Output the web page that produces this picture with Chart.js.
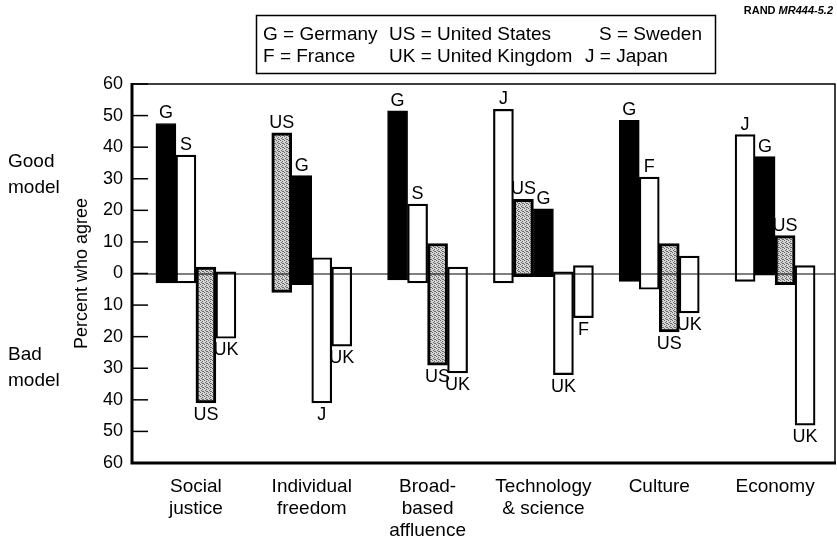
<!DOCTYPE html>
<html>
<head>
<meta charset="utf-8">
<title>Percent who agree</title>
<script src="https://cdn.jsdelivr.net/npm/chart.js@4.4.1/dist/chart.umd.min.js"></script>
<style>
  html, body { margin: 0; padding: 0; background: #fff; }
  #wrap { position: relative; width: 837px; height: 544px; }
</style>
</head>
<body>
<div id="wrap"><canvas id="chart" width="837" height="544"></canvas></div>
<script>
const FONT = '"Liberation Sans", Arial, Helvetica, sans-serif';

const categories = [
  ['Social', 'justice'],
  ['Individual', 'freedom'],
  ['Broad-', 'based', 'affluence'],
  ['Technology', '& science'],
  ['Culture'],
  ['Economy'],
];

// country codes in the order the bars stand inside each group
const barCodes = [
  ['G', 'S', 'US', 'UK'],
  ['US', 'G', 'J', 'UK'],
  ['G', 'S', 'US', 'UK'],
  ['J', 'US', 'G', 'UK', 'F'],
  ['G', 'F', 'US', 'UK'],
  ['J', 'G', 'US', 'UK'],
];

// percent saying "good model" (drawn upward)
const goodPct = [
  [47.5, 37.5, 2, 0.5],
  [44.5, 31, 5, 2],
  [51.5, 22, 9.5, 2],
  [52, 23.5, 20.5, 0.5, 2.5],
  [48.5, 30.5, 9.5, 5.5],
  [44, 37, 12, 2.5],
];

// percent saying "bad model" (drawn downward)
const badPct = [
  [3, 3, 41, 20.5],
  [6, 3.5, 41, 23],
  [2, 3, 29, 31.5],
  [3, 1, 1, 32, 14],
  [2.5, 5, 18.5, 12.5],
  [2.5, 0.5, 3.5, 48],
];

const legendRows = [
  ['G = Germany', 'US = United States', 'S = Sweden'],
  ['F = France', 'UK = United Kingdom', 'J = Japan'],
];

// stippled grey fill used for the US bars
function makeStipple() {
  const c = document.createElement('canvas');
  c.width = 4;
  c.height = 4;
  const g = c.getContext('2d');
  g.fillStyle = '#d4d4d4';
  g.fillRect(0, 0, 4, 4);
  g.fillStyle = '#6a6a6a';
  [[0, 0], [2, 1], [1, 2], [3, 3], [2, 3]].forEach(([x, y]) => g.fillRect(x, y, 1, 1));
  return g.createPattern(c, 'repeat');
}

const stipple = makeStipple();
const maxBars = Math.max(...barCodes.map((b) => b.length));

const fillFor = (code) => {
  if (code === 'G') return '#000';
  if (code === 'US') return stipple;
  return '#fff';
};

const datasets = [];
for (let slot = 0; slot < maxBars; slot++) {
  const codeAt = (i) => barCodes[i][slot];
  datasets.push({
    label: 'slot' + slot,
    data: categories.map((_, i) => (codeAt(i) ? [-badPct[i][slot], goodPct[i][slot]] : null)),
    backgroundColor: categories.map((_, i) => fillFor(codeAt(i))),
    borderColor: '#000',
    borderWidth: categories.map((_, i) => (codeAt(i) === 'US' ? 3 : codeAt(i) === 'G' ? 1 : 2.2)),
    borderSkipped: false,
    barThickness: 20,
    skipNull: true,
  });
}

// frame, inside ticks, zero line, bar letters and the side texts
const decorations = {
  id: 'decorations',
  afterDatasetsDraw(chart) {
    const ctx = chart.ctx;
    const yScale = chart.scales.y;
    const zeroY = yScale.getPixelForValue(0);
    const left = 132;
    const right = 835;
    const top = yScale.getPixelForValue(60);
    const bottom = yScale.getPixelForValue(-60);

    ctx.save();
    ctx.strokeStyle = '#000';

    // zero line across the plot
    ctx.lineWidth = 1;
    ctx.beginPath();
    ctx.moveTo(left, zeroY + 0.5);
    ctx.lineTo(right, zeroY + 0.5);
    ctx.stroke();

    // short ticks pointing into the plot
    ctx.lineWidth = 1.5;
    yScale.ticks.forEach((t) => {
      const y = yScale.getPixelForValue(t.value);
      ctx.beginPath();
      ctx.moveTo(left, y);
      ctx.lineTo(left + 16, y);
      ctx.stroke();
    });

    // thin top and right edges, heavy left and bottom axes
    ctx.lineWidth = 1.5;
    ctx.beginPath();
    ctx.moveTo(left, top);
    ctx.lineTo(right, top);
    ctx.lineTo(right, bottom);
    ctx.stroke();
    ctx.lineWidth = 3;
    ctx.beginPath();
    ctx.moveTo(left, top - 1);
    ctx.lineTo(left, bottom);
    ctx.lineTo(right + 1, bottom);
    ctx.stroke();

    // country letter at the long end of each bar
    ctx.fillStyle = '#000';
    ctx.font = '18px ' + FONT;
    ctx.textAlign = 'center';
    chart.data.datasets.forEach((ds, slot) => {
      const meta = chart.getDatasetMeta(slot);
      meta.data.forEach((bar, i) => {
        const code = barCodes[i][slot];
        if (!code) return;
        const hi = Math.min(bar.y, bar.base);
        const lo = Math.max(bar.y, bar.base);
        if (goodPct[i][slot] >= badPct[i][slot]) {
          ctx.textBaseline = 'bottom';
          ctx.fillText(code, bar.x, hi - 1);
        } else {
          ctx.textBaseline = 'top';
          ctx.fillText(code, bar.x, lo + 3);
        }
      });
    });

    // axis title and the good/bad notes
    ctx.textBaseline = 'middle';
    ctx.save();
    ctx.translate(82, zeroY);
    ctx.rotate(-Math.PI / 2);
    ctx.fillText('Percent who agree', 0, 0);
    ctx.restore();

    ctx.textAlign = 'left';
    ctx.font = '19px ' + FONT;
    ctx.fillText('Good', 8, 162);
    ctx.fillText('model', 8, 188);
    ctx.fillText('Bad', 8, 355);
    ctx.fillText('model', 8, 381);

    // key box
    ctx.lineWidth = 1.5;
    ctx.strokeRect(256.5, 15.5, 459, 58);
    const colX = [[263, 389, 599], [263, 389, 585]];
    legendRows.forEach((row, r) => {
      row.forEach((txt, c) => ctx.fillText(txt, colX[r][c], 35 + r * 22));
    });

    // figure number, top right
    ctx.textAlign = 'right';
    ctx.font = 'italic bold 11px ' + FONT;
    ctx.fillText('MR444-5.2', 833, 11);
    const w = ctx.measureText('MR444-5.2').width;
    ctx.font = 'bold 11px ' + FONT;
    ctx.fillText('RAND ', 833 - w, 11);

    ctx.restore();
  },
};

new Chart(document.getElementById('chart'), {
  type: 'bar',
  data: { labels: categories, datasets },
  options: {
    responsive: false,
    animation: false,
    events: [],
    layout: { padding: { left: 0, top: 84, right: 4, bottom: 0 } },
    plugins: {
      legend: { display: false },
      tooltip: { enabled: false },
    },
    scales: {
      x: {
        grid: { display: false, drawTicks: false },
        border: { display: false },
        ticks: {
          color: '#000',
          font: { family: FONT, size: 19, lineHeight: 1.15 },
          padding: 13,
          maxRotation: 0,
          autoSkip: false,
        },
        afterFit: (scale) => { scale.height = 81; },
      },
      y: {
        min: -60,
        max: 60,
        grid: { display: false, drawTicks: false },
        border: { display: false },
        ticks: {
          stepSize: 10,
          color: '#000',
          font: { family: FONT, size: 18 },
          padding: 15,
          callback: (v) => Math.abs(v),
        },
        afterFit: (scale) => { scale.width = 138; },
      },
    },
  },
  plugins: [decorations],
});
</script>
</body>
</html>
